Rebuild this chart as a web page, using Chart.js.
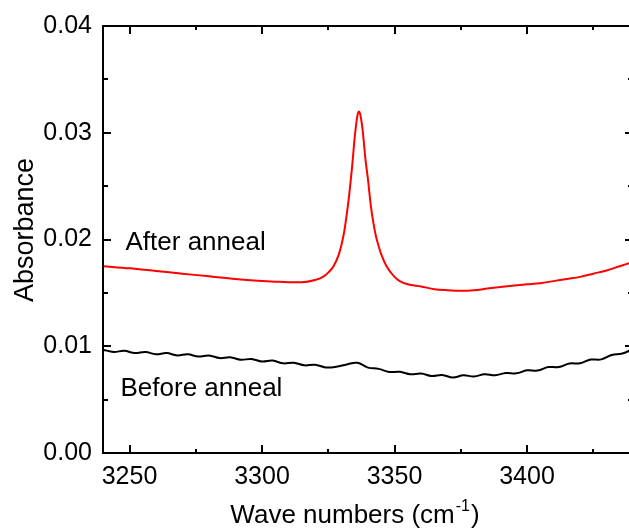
<!DOCTYPE html>
<html>
<head>
<meta charset="utf-8">
<script src="https://cdn.jsdelivr.net/npm/chart.js@4/dist/chart.umd.min.js"></script>
<style>
  html, body { margin: 0; padding: 0; background: #fff; overflow: hidden; }
  #wrap { width: 640px; height: 529px; }
</style>
</head>
<body>
<div id="wrap"><canvas id="c" width="640" height="529"></canvas></div>
<script>
// ---- data ----
const xTickLabels = [3250, 3300, 3350, 3400];
const xMinorTicks = [3275, 3325, 3375, 3425];
const yTickLabels = [0, 0.01, 0.02, 0.03, 0.04];
const yMinorTicks = [0.005, 0.015, 0.025, 0.035];

const afterX = [3240, 3250, 3260, 3270, 3280, 3290, 3300, 3305, 3310, 3315, 3320, 3323, 3325, 3327, 3329, 3330,
  3331, 3332, 3333, 3334, 3335, 3336, 3336.5, 3337, 3338, 3339, 3340, 3341, 3342, 3343, 3344, 3345, 3347, 3350,
  3352, 3355, 3360, 3365, 3370, 3375, 3380, 3385, 3390, 3395, 3400, 3405, 3410, 3415, 3420, 3425, 3430, 3435, 3440];
const afterY = [0.0175, 0.0173, 0.01705, 0.0168, 0.01655, 0.0163, 0.01612, 0.01605, 0.0160, 0.0160, 0.0162, 0.0165, 0.0169, 0.0175, 0.0186, 0.0195,
  0.0207, 0.0224, 0.0244, 0.0268, 0.0296, 0.0316, 0.0320, 0.0318, 0.0302, 0.0276, 0.0256, 0.0233, 0.0216, 0.0203, 0.0194, 0.0186, 0.0175, 0.0165,
  0.0161, 0.0158, 0.0156, 0.01535, 0.01525, 0.0152, 0.01525, 0.0154, 0.01555, 0.0157, 0.0158, 0.0159, 0.0161, 0.0163, 0.0165, 0.0168, 0.0171, 0.0175, 0.0179];

const beforeX = [3240, 3244, 3248, 3252, 3256, 3260, 3264, 3268, 3272, 3276, 3280, 3284, 3288, 3292, 3296, 3300,
  3304, 3308, 3312, 3316, 3320, 3324, 3328, 3332, 3336, 3340, 3344, 3348, 3352, 3356, 3360, 3364, 3368, 3372,
  3376, 3380, 3384, 3388, 3392, 3396, 3400, 3404, 3408, 3412, 3416, 3420, 3424, 3428, 3432, 3436, 3440];
const beforeY = [0.00968, 0.00947, 0.00957, 0.00936, 0.00946, 0.00925, 0.00936, 0.00914, 0.00925, 0.00903, 0.00913, 0.00889, 0.00897, 0.00873, 0.00881, 0.00857,
  0.00866, 0.00840, 0.00846, 0.00821, 0.00827, 0.00802, 0.00808, 0.00830, 0.00845, 0.00800, 0.00788, 0.00759, 0.00761, 0.00737, 0.00745, 0.00722, 0.00731, 0.00707,
  0.00728, 0.00717, 0.00738, 0.00728, 0.00750, 0.00746, 0.00775, 0.00772, 0.00805, 0.00805, 0.00838, 0.00840, 0.00875, 0.00877, 0.00918, 0.00932, 0.00975];

const seriesNames = ['After anneal', 'Before anneal'];
const xTitle = ['Wave numbers (cm', '-1', ')'];
const yTitle = 'Absorbance';

// ---- styling / layout ----
const FONT = "'Liberation Sans', Arial, Helvetica, sans-serif";
const labelAnchors = [ { x: 3248.5, y: 0.0190 }, { x: 3246.6, y: 0.00536 } ];

const framePlugin = {
  id: 'frame',
  afterDraw(chart) {
    const { ctx, chartArea: a, scales: { x, y } } = chart;
    ctx.save();
    ctx.strokeStyle = '#000';
    ctx.lineWidth = 2;
    ctx.strokeRect(a.left, a.top, a.right - a.left, a.bottom - a.top);
    const tick = (vals, len) => {
      vals.forEach(v => {
        const px = Math.round(x.getPixelForValue(v));
        ctx.beginPath();
        ctx.moveTo(px, a.bottom); ctx.lineTo(px, a.bottom - len);
        ctx.moveTo(px, a.top); ctx.lineTo(px, a.top + len);
        ctx.stroke();
      });
    };
    const ytick = (vals, len) => {
      vals.forEach(v => {
        const py = Math.round(y.getPixelForValue(v));
        ctx.beginPath();
        ctx.moveTo(a.left, py); ctx.lineTo(a.left + len, py);
        ctx.moveTo(a.right, py); ctx.lineTo(a.right - len, py);
        ctx.stroke();
      });
    };
    tick(xTickLabels, 8); tick(xMinorTicks, 4);
    ytick(yTickLabels, 8); ytick(yMinorTicks, 5);

    // series labels
    ctx.fillStyle = '#000';
    ctx.font = '26px ' + FONT;
    ctx.textBaseline = 'alphabetic';
    ctx.textAlign = 'left';
    seriesNames.forEach((n, i) => {
      ctx.fillText(n, x.getPixelForValue(labelAnchors[i].x), y.getPixelForValue(labelAnchors[i].y));
    });

    // x title with superscript
    const big = '26px ' + FONT, small = '16px ' + FONT;
    ctx.font = big;
    const w1 = ctx.measureText(xTitle[0]).width;
    ctx.font = small;
    const w2 = ctx.measureText(xTitle[1]).width;
    ctx.font = big;
    const w3 = ctx.measureText(xTitle[2]).width;
    const total = w1 + w2 + 2 + w3;
    let sx = 355 - total / 2;
    const base = 523;
    ctx.fillText(xTitle[0], sx, base);
    ctx.font = small;
    ctx.fillText(xTitle[1], sx + w1 + 1, base - 12);
    ctx.font = big;
    ctx.fillText(xTitle[2], sx + w1 + w2 + 2, base);

    // y title
    ctx.save();
    ctx.font = '27px ' + FONT;
    ctx.translate(33, 230);
    ctx.rotate(-Math.PI / 2);
    ctx.textAlign = 'center';
    ctx.fillText(yTitle, 0, 0);
    ctx.restore();
    ctx.restore();
  }
};

Chart.defaults.font.family = FONT;
Chart.defaults.color = '#000';

new Chart(document.getElementById('c'), {
  type: 'line',
  data: {
    datasets: [
      {
        label: seriesNames[0],
        data: afterX.map((v, i) => ({ x: v, y: afterY[i] })),
        borderColor: '#ff0000',
        borderWidth: 2,
        pointRadius: 0,
        cubicInterpolationMode: 'monotone',
        fill: false
      },
      {
        label: seriesNames[1],
        data: beforeX.map((v, i) => ({ x: v, y: beforeY[i] })),
        borderColor: '#000000',
        borderWidth: 2,
        pointRadius: 0,
        tension: 0.4,
        fill: false
      }
    ]
  },
  options: {
    responsive: false,
    animation: false,
    events: [],
    layout: { padding: { top: 22, right: 7, left: 0, bottom: 0 } },
    plugins: { legend: { display: false }, tooltip: { enabled: false } },
    scales: {
      x: {
        type: 'linear',
        min: 3240,
        max: 3440,
        afterBuildTicks: s => { s.ticks = xTickLabels.map(v => ({ value: v })); },
        afterFit: s => { s.height = 76; },
        grid: { display: false, drawTicks: false },
        border: { display: false },
        ticks: { font: { size: 25 }, padding: 9, maxRotation: 0, color: '#000', callback: v => String(v) }
      },
      y: {
        type: 'linear',
        min: 0,
        max: 0.04,
        afterBuildTicks: s => { s.ticks = yTickLabels.map(v => ({ value: v })); },
        afterFit: s => { s.width = 103; },
        grid: { display: false, drawTicks: false },
        border: { display: false },
        ticks: { font: { size: 25 }, padding: 11, color: '#000', callback: v => v.toFixed(2) }
      }
    }
  },
  plugins: [framePlugin]
});
</script>
</body>
</html>
